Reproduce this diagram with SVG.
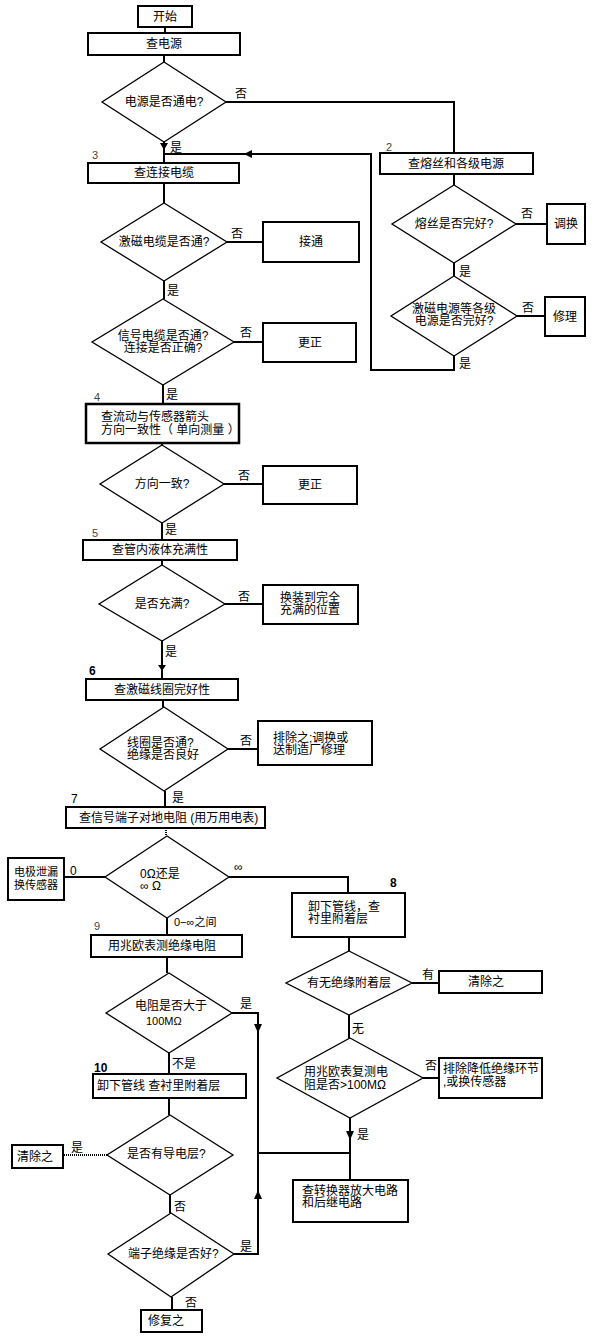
<svg xmlns="http://www.w3.org/2000/svg" width="597" height="1344" viewBox="0 0 597 1344">
<style>
text{font-family:"Liberation Sans","Noto Sans CJK SC",sans-serif;font-size:12px;fill:#000}
.c{text-anchor:middle}
.n{font-size:11px;fill:#444}
.box{fill:#fff;stroke:#000;stroke-width:2}
.dia{fill:#fff;stroke:#000;stroke-width:1.3}
.ln{fill:none;stroke:#000;stroke-width:2}
</style>
<rect width="597" height="1344" fill="#fff"/>
<g id="connectors">
<path class="ln" d="M165,27 V33"/>
<path class="ln" d="M164,55 V62"/>
<path class="ln" d="M164,142 V163"/>
<path d="M160,143 L168,143 L164,150 Z" fill="#000"/>
<path class="ln" d="M226,102 H454 V153"/>
<path class="ln" d="M454,174 V185"/>
<path class="ln" d="M516,224 H547"/>
<path class="ln" d="M454,263 V276"/>
<path class="ln" d="M517,316 H545"/>
<path class="ln" d="M454,356 V370 H371 V154 H164"/>
<path d="M244,154 L252,150 L252,158 Z" fill="#000"/>
<path class="ln" d="M164,183 V203"/>
<path class="ln" d="M227,242 H263"/>
<path class="ln" d="M164,281 V299"/>
<path class="ln" d="M234,342 H263"/>
<path class="ln" d="M163,385 V404"/>
<path class="ln" d="M162,443 V445"/>
<path class="ln" d="M224,484 H263"/>
<path class="ln" d="M162,523 V540"/>
<path class="ln" d="M162,560 V565"/>
<path class="ln" d="M225,604 H263"/>
<path class="ln" d="M162,641 V679"/>
<path d="M158,665 L166,665 L162,671 Z" fill="#000"/>
<path class="ln" d="M163,700 V707"/>
<path class="ln" d="M228,749 H258"/>
<path class="ln" d="M165,791 V807"/>
<path class="ln" d="M166,828 V836" stroke-dasharray="1 1"/>
<path class="ln" d="M105,877 H64"/>
<path class="ln" d="M229,877 H348 V893" stroke-width="1.2"/>
<path class="ln" d="M167,918 V935"/>
<path class="ln" d="M167,957 V973"/>
<path class="ln" d="M232,1013 H258 V1254 H234"/>
<path d="M254,1024 L262,1024 L258,1033 Z" fill="#000"/>
<path d="M254,1199 L262,1199 L258,1190 Z" fill="#000"/>
<path class="ln" d="M169,1053 V1074"/>
<path class="ln" d="M169,1098 V1115"/>
<path class="ln" d="M107,1155 H63" stroke-dasharray="1 1"/>
<path class="ln" d="M170,1195 V1213"/>
<path class="ln" d="M172,1297 V1310" stroke-width="1"/>
<path class="ln" d="M258,1153 H350"/>
<path class="ln" d="M349,937 V951"/>
<path class="ln" d="M412,983 H439"/>
<path class="ln" d="M349,1015 V1038"/>
<path class="ln" d="M423,1078 H439"/>
<path class="ln" d="M350,1118 V1180"/>
<path d="M346,1131 L354,1131 L350,1140 Z" fill="#000"/>
</g>
<g id="labels">
<text x="235" y="98">否</text>
<text x="170" y="152">是</text>
<text class="n" x="92" y="159">3</text>
<text class="n" x="386" y="151">2</text>
<text x="521" y="218">否</text>
<text x="459" y="276">是</text>
<text x="522" y="312">否</text>
<text x="459" y="368">是</text>
<text x="231" y="238">否</text>
<text x="167" y="295">是</text>
<text x="240" y="337">否</text>
<text x="166" y="399">是</text>
<text class="n" x="94" y="401">4</text>
<text x="238" y="480">否</text>
<text x="165" y="534">是</text>
<text class="n" x="92" y="537">5</text>
<text x="238" y="601">否</text>
<text x="165" y="656">是</text>
<text x="89" y="675" style="font-weight:bold">6</text>
<text x="240" y="745">否</text>
<text x="172" y="802">是</text>
<text x="71" y="803">7</text>
<text x="70" y="875">0</text>
<text x="234" y="871">∞</text>
<text x="390" y="887" style="font-weight:bold">8</text>
<text x="174" y="926" style="font-size:11px">0−∞之间</text>
<text class="n" x="94" y="930">9</text>
<text x="240" y="1008">是</text>
<text x="172" y="1068">不是</text>
<text x="94" y="1072" style="font-weight:bold">10</text>
<text x="422" y="979">有</text>
<text x="352" y="1033">无</text>
<text x="425" y="1070">否</text>
<text x="357" y="1139">是</text>
<text x="71" y="1152">是</text>
<text x="174" y="1211">否</text>
<text x="240" y="1251">是</text>
<text x="185" y="1307">否</text>
</g>
<g id="n_start"><rect class="box" x="138" y="6" width="54" height="21"/><text class="c" x="165" y="21">开始</text></g>
<g id="n_power"><rect class="box" x="88" y="33" width="152" height="22"/><text class="c" x="164" y="48">查电源</text></g>
<g id="d_power"><polygon class="dia" points="164,62 226,102 164,142 102,102"/><text class="c" x="164" y="106">电源是否通电?</text></g>
<g id="n_fuse"><rect class="box" x="380" y="153" width="153" height="21"/><text class="c" x="456" y="168">查熔丝和各级电源</text></g>
<g id="d_fuse"><polygon class="dia" points="454,185 516,224 454,263 392,224"/><text class="c" x="454" y="228">熔丝是否完好?</text></g>
<g id="n_swap"><rect class="box" x="547" y="204" width="38" height="40"/><text class="c" x="566" y="228">调换</text></g>
<g id="d_exc"><polygon class="dia" points="454,276 517,316 454,356 391,316"/><text class="c" x="454" y="313">激磁电源等各级</text><text class="c" x="454" y="325">电源是否完好?</text></g>
<g id="n_repair"><rect class="box" x="545" y="297" width="40" height="39"/><text class="c" x="565" y="321">修理</text></g>
<g id="n_cable"><rect class="box" x="88" y="163" width="151" height="20"/><text class="c" x="164" y="177">查连接电缆</text></g>
<g id="d_cable"><polygon class="dia" points="164,203 227,242 164,281 101,242"/><text class="c" x="164" y="246">激磁电缆是否通?</text></g>
<g id="n_connect"><rect class="box" x="263" y="222" width="96" height="40"/><text class="c" x="311" y="246">接通</text></g>
<g id="d_signal"><polygon class="dia" points="163,299 234,342 163,385 92,342"/><text class="c" x="163" y="340">信号电缆是否通?</text><text class="c" x="163" y="352">连接是否正确?</text></g>
<g id="n_fix1"><rect class="box" x="263" y="323" width="93" height="39"/><text class="c" x="310" y="347">更正</text></g>
<g id="n_flow"><rect class="box" x="86" y="404" width="153" height="39" style="stroke-width:2.5"/><text x="101" y="421">查流动与传感器箭头</text><text x="101" y="434">方向一致性（ 单向测量 ）</text></g>
<g id="d_dir"><polygon class="dia" points="162,445 224,484 162,523 100,484"/><text class="c" x="162" y="488">方向一致?</text></g>
<g id="n_fix2"><rect class="box" x="263" y="466" width="94" height="38"/><text class="c" x="310" y="489">更正</text></g>
<g id="n_fill"><rect class="box" x="83" y="540" width="154" height="20"/><text class="c" x="160" y="554">查管内液体充满性</text></g>
<g id="d_fill"><polygon class="dia" points="162,565 225,604 162,641 99,604"/><text class="c" x="162" y="608">是否充满?</text></g>
<g id="n_move"><rect class="box" x="263" y="585" width="95" height="39"/><text class="c" x="310" y="602">换装到完全</text><text class="c" x="310" y="614">充满的位置</text></g>
<g id="n_coil"><rect class="box" x="86" y="679" width="152" height="21"/><text class="c" x="162" y="694">查激磁线圈完好性</text></g>
<g id="d_coil"><polygon class="dia" points="164,707 228,749 164,791 100,749"/><text x="127" y="747">线圈是否通?</text><text x="127" y="759">绝缘是否良好</text></g>
<g id="n_elim"><rect class="box" x="258" y="721" width="114" height="44"/><text x="273" y="742">排除之;调换或</text><text x="273" y="754">送制造厂修理</text></g>
<g id="n_term"><rect class="box" x="66" y="807" width="199" height="21"/><text x="79" y="822">查信号端子对地电阻 (用万用电表)</text></g>
<g id="d_ohm"><polygon class="dia" points="167,836 229,877 167,918 105,877"/><text x="140" y="878">0Ω还是</text><text x="140" y="890">∞ Ω</text></g>
<g id="n_leak"><rect class="box" x="8" y="858" width="56" height="42"/><text class="c" x="36" y="876" style="font-size:11px">电极泄漏</text><text class="c" x="36" y="889" style="font-size:11px">换传感器</text></g>
<g id="n_remove8"><rect class="box" x="292" y="893" width="113" height="44"/><text x="308" y="911">卸下管线，查</text><text x="308" y="923">衬里附着层</text></g>
<g id="d_layer"><polygon class="dia" points="349,951 412,983 349,1015 286,983"/><text class="c" x="349" y="987">有无绝缘附着层</text></g>
<g id="n_clear1"><rect class="box" x="439" y="971" width="103" height="22"/><text class="c" x="486" y="986">清除之</text></g>
<g id="d_retest"><polygon class="dia" points="350,1038 423,1078 350,1118 277,1078"/><text x="304" y="1076">用兆欧表复测电</text><text x="304" y="1089">阻是否&gt;100MΩ</text></g>
<g id="n_elim2"><rect class="box" x="439" y="1058" width="103" height="40"/><text x="443" y="1073">排除降低绝缘环节</text><text x="443" y="1086">,或换传感器</text></g>
<g id="n_mega"><rect class="box" x="91" y="935" width="151" height="22"/><text x="108" y="950">用兆欧表测绝缘电阻</text></g>
<g id="d_res"><polygon class="dia" points="169,973 232,1013 169,1053 106,1013"/><text x="135" y="1010">电阻是否大于</text><text x="146" y="1025" style="font-size:11px">100MΩ</text></g>
<g id="n_remove10"><rect class="box" x="93" y="1074" width="153" height="24"/><text x="97" y="1090">卸下管线 查衬里附着层</text></g>
<g id="d_cond"><polygon class="dia" points="170,1115 233,1155 170,1195 107,1155"/><text x="127" y="1158">是否有导电层?</text></g>
<g id="n_clear2"><rect class="box" x="12" y="1145" width="51" height="23"/><text x="17" y="1161">清除之</text></g>
<g id="d_tins"><polygon class="dia" points="171,1213 234,1254 171,1297 108,1254"/><text x="128" y="1258">端子绝缘是否好?</text></g>
<g id="n_restore"><rect class="box" x="141" y="1310" width="61" height="22"/><text x="148" y="1325">修复之</text></g>
<g id="n_conv"><rect class="box" x="293" y="1180" width="115" height="42"/><text x="302" y="1195">查转换器放大电路</text><text x="302" y="1207">和后继电路</text></g>
</svg>
